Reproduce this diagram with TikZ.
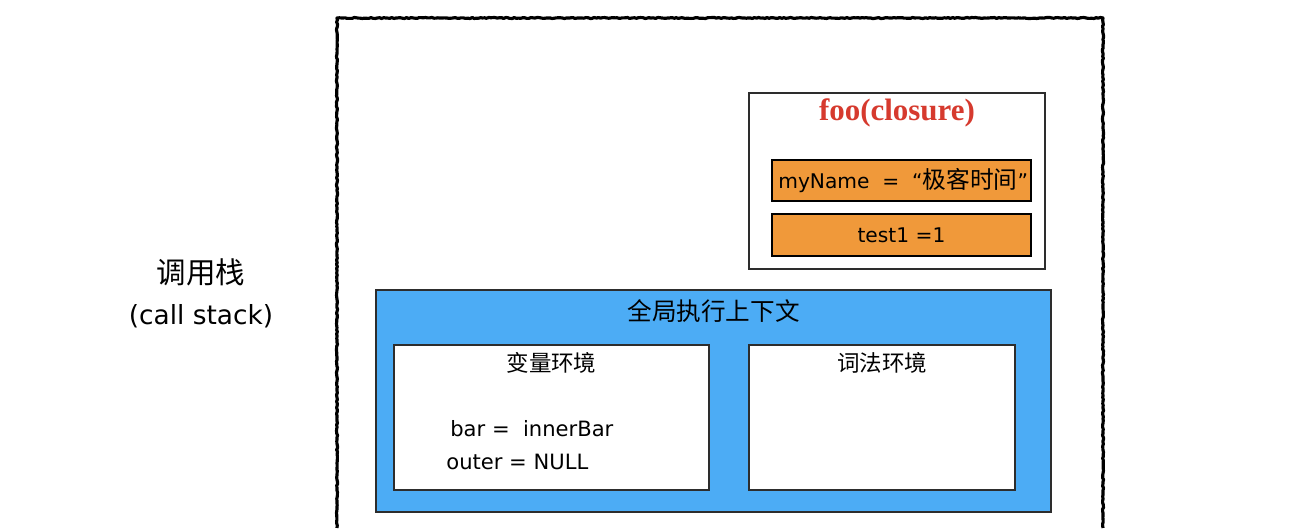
\documentclass[tikz,border=0pt]{standalone}
\usepackage{fontspec}
\setmainfont{DejaVu Sans}
\newfontfamily\cjk{Noto Sans CJK SC}
\newfontfamily\titleserif{Liberation Serif}
\usepackage{tikz}
\usetikzlibrary{positioning, decorations.pathmorphing}
\definecolor{closurered}{RGB}{214, 58, 46}
\definecolor{slotorange}{RGB}{240, 153, 58}
\definecolor{ctxblue}{RGB}{76, 172, 245}
\definecolor{edgegray}{RGB}{45, 45, 45}

\begin{document}
\begin{tikzpicture}[
    x=0.02cm, y=-0.02cm,
    every node/.style={inner sep=0pt},
    stackline/.style={line width=1.8pt, line join=round, decorate, decoration={random steps, segment length=1.2pt, amplitude=0.3pt}},
    envbox/.style={rectangle, draw=edgegray, line width=1pt, fill=white},
    slotbox/.style={rectangle, draw=black, line width=1.2pt, fill=slotorange, minimum width=5.18cm},
    zhlabel/.style={font=\cjk\fontsize{12.8}{15}\selectfont},
    vartext/.style={font=\fontsize{12}{14}\selectfont}
]
\useasboundingbox (0,0) rectangle (1312,528);

% Call stack frame (open at the bottom)
\draw[stackline] (337,528) -- (337,18) -- (1103,18) -- (1103,528);

% Closure of foo
\node[envbox, line width=0.9pt, minimum width=5.92cm, minimum height=3.52cm] (closure) at (897,181) {};
\node[below=0.13cm of closure.north, font=\titleserif\bfseries\fontsize{17.6}{20}\selectfont, text=closurered] (closuretitle) {foo(closure)};
\node[slotbox, minimum height=0.82cm] (slotname) at (901.5,180.5) {};
\node[slotbox, minimum height=0.84cm] (slottest) at (901.5,235) {};
\node[right=0.14cm of slotname.west] (mynametext) {\fontsize{11.5}{14}\selectfont myName\ \ =\ \ “{\cjk\fontsize{13.5}{16}\selectfont 极客时间}”};
\node[font=\fontsize{11.5}{14}\selectfont] (testtext) at (slottest) {test1 =1};

% Global execution context
\node[rectangle, draw=edgegray, line width=1pt, fill=ctxblue, minimum width=13.5cm, minimum height=4.44cm] (gctx) at (713.5,401) {};
\node[below=0.21cm of gctx.north, font=\cjk\fontsize{14}{16}\selectfont] (gctxtitle) {全局执行上下文};

\node[envbox, minimum width=6.3cm, minimum height=2.9cm] (varenv) at (551.5,417.5) {};
\node[envbox, minimum width=5.32cm, minimum height=2.9cm] (lexenv) at (882,417.5) {};
\node[zhlabel, below=0.15cm of varenv.north] (varenvtitle) {变量环境};
\node[zhlabel, below=0.15cm of lexenv.north] (lexenvtitle) {词法环境};

% Variable environment entries
\node[vartext, anchor=west] (barline) at (450,429) {bar =\ \ innerBar};
\node[vartext, anchor=west] (outerline) at (446,462) {outer = NULL};

% Label
\node[font=\cjk\fontsize{16.8}{19}\selectfont] (stacklabel) at (201,272) {调用栈};
\node[below=0.36cm of stacklabel, font=\fontsize{15}{18}\selectfont] (stacklabelen) {(call stack)};

\end{tikzpicture}
\end{document}
